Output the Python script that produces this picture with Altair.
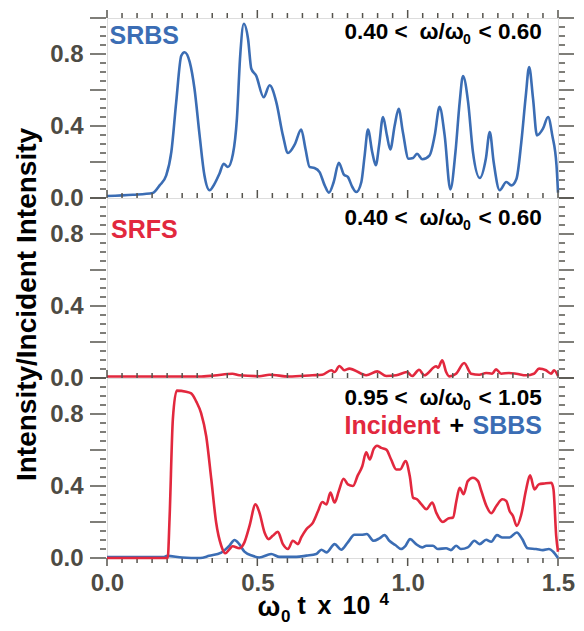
import altair as alt
import pandas as pd

FONT = "Liberation Sans"
BLUE = "#3b6db4"
RED = "#e2283e"
TICK = "#55534d"
LABEL = "#4d4b44"

# ---------------- data (x in units of 10^4 / omega_0) ----------------
srbs = [(0.0, 0.011), (0.086, 0.018), (0.152, 0.028), (0.175, 0.07), (0.197, 0.126),
        (0.214, 0.256), (0.23, 0.53), (0.247, 0.79), (0.258, 0.81), (0.275, 0.756),
        (0.291, 0.607), (0.308, 0.348), (0.324, 0.126), (0.341, 0.043), (0.358, 0.08),
        (0.374, 0.135), (0.388, 0.19), (0.402, 0.172), (0.419, 0.246), (0.432, 0.44),
        (0.443, 0.79), (0.455, 0.968), (0.469, 0.885), (0.48, 0.718), (0.496, 0.68),
        (0.521, 0.56), (0.541, 0.626), (0.563, 0.533), (0.585, 0.348), (0.602, 0.25),
        (0.624, 0.296), (0.646, 0.38), (0.66, 0.274), (0.674, 0.172), (0.69, 0.167),
        (0.707, 0.144), (0.724, 0.07), (0.738, 0.03), (0.754, 0.089), (0.771, 0.196),
        (0.788, 0.13), (0.801, 0.117), (0.816, 0.061), (0.829, 0.033), (0.846, 0.089),
        (0.857, 0.237), (0.868, 0.38), (0.882, 0.256), (0.894, 0.182), (0.905, 0.293),
        (0.918, 0.45), (0.931, 0.348), (0.942, 0.27), (0.957, 0.404), (0.97, 0.496),
        (0.984, 0.367), (1.003, 0.218), (1.018, 0.222), (1.031, 0.246), (1.049, 0.215),
        (1.073, 0.237), (1.09, 0.348), (1.106, 0.506), (1.123, 0.348), (1.142, 0.048),
        (1.159, 0.256), (1.173, 0.533), (1.184, 0.678), (1.201, 0.533), (1.217, 0.256),
        (1.24, 0.111), (1.26, 0.218), (1.273, 0.367), (1.286, 0.2), (1.306, 0.043),
        (1.328, 0.089), (1.345, 0.07), (1.362, 0.107), (1.378, 0.311), (1.393, 0.57),
        (1.404, 0.728), (1.417, 0.552), (1.43, 0.348), (1.45, 0.385), (1.467, 0.45),
        (1.481, 0.348), (1.495, 0.182), (1.5, 0.03)]

srfs = [(0.0, 0.008), (0.307, 0.008), (0.357, 0.014), (0.417, 0.024), (0.44, 0.015),
        (0.507, 0.01), (0.54, 0.018), (0.606, 0.008), (0.683, 0.015), (0.716, 0.018),
        (0.746, 0.043), (0.757, 0.033), (0.773, 0.067), (0.789, 0.043), (0.806, 0.052),
        (0.846, 0.024), (0.862, 0.015), (0.899, 0.037), (0.929, 0.011), (0.962, 0.015),
        (0.998, 0.033), (1.015, 0.011), (1.038, 0.046), (1.055, 0.015), (1.095, 0.065),
        (1.101, 0.057), (1.115, 0.098), (1.128, 0.033), (1.138, 0.009), (1.161, 0.024),
        (1.188, 0.083), (1.211, 0.024), (1.238, 0.018), (1.261, 0.028), (1.281, 0.024),
        (1.294, 0.048), (1.311, 0.024), (1.337, 0.028), (1.361, 0.024), (1.394, 0.015),
        (1.42, 0.024), (1.437, 0.052), (1.46, 0.043), (1.477, 0.024), (1.487, 0.043),
        (1.5, 0.011)]

incident = [(0.0, 0.0), (0.202, 0.0), (0.208, 0.217), (0.219, 0.77), (0.232, 0.93),
            (0.263, 0.924), (0.28, 0.915), (0.297, 0.869), (0.313, 0.805), (0.33, 0.676),
            (0.347, 0.436), (0.363, 0.197), (0.38, 0.068), (0.394, 0.026), (0.408, 0.05),
            (0.418, 0.065), (0.44, 0.054), (0.457, 0.087), (0.474, 0.178), (0.494, 0.298),
            (0.507, 0.252), (0.524, 0.142), (0.538, 0.105), (0.551, 0.123), (0.568, 0.145),
            (0.585, 0.077), (0.602, 0.05), (0.618, 0.096), (0.635, 0.077), (0.646, 0.114),
            (0.663, 0.16), (0.685, 0.197), (0.702, 0.261), (0.716, 0.311), (0.73, 0.298),
            (0.743, 0.363), (0.757, 0.308), (0.771, 0.372), (0.787, 0.44), (0.801, 0.409),
            (0.818, 0.4), (0.834, 0.459), (0.849, 0.51), (0.862, 0.587), (0.874, 0.547),
            (0.887, 0.606), (0.898, 0.624), (0.912, 0.612), (0.929, 0.602), (0.945, 0.547),
            (0.962, 0.492), (0.975, 0.492), (0.993, 0.538), (1.007, 0.455), (1.018, 0.335),
            (1.031, 0.326), (1.046, 0.298), (1.062, 0.271), (1.082, 0.308), (1.095, 0.252),
            (1.117, 0.2), (1.134, 0.219), (1.151, 0.225), (1.162, 0.317), (1.173, 0.39),
            (1.186, 0.354), (1.2, 0.427), (1.217, 0.446), (1.234, 0.427), (1.245, 0.372),
            (1.262, 0.289), (1.278, 0.249), (1.295, 0.289), (1.315, 0.326), (1.328, 0.317),
            (1.339, 0.261), (1.35, 0.234), (1.363, 0.178), (1.378, 0.243), (1.394, 0.381),
            (1.407, 0.459), (1.422, 0.381), (1.436, 0.409), (1.455, 0.414), (1.478, 0.418),
            (1.485, 0.381), (1.494, 0.123), (1.5, 0.035)]

sbbs = [(0.0, 0.005), (0.19, 0.005), (0.2, 0.012), (0.25, 0.003), (0.31, 0.0),
        (0.34, 0.012), (0.38, 0.03), (0.408, 0.07), (0.424, 0.1), (0.44, 0.077),
        (0.457, 0.035), (0.484, 0.012), (0.507, 0.003), (0.546, 0.022), (0.574, 0.006),
        (0.63, 0.006), (0.663, 0.013), (0.696, 0.022), (0.713, 0.046), (0.73, 0.031),
        (0.757, 0.077), (0.779, 0.046), (0.801, 0.087), (0.823, 0.129), (0.846, 0.129),
        (0.864, 0.133), (0.887, 0.096), (0.906, 0.109), (0.923, 0.127), (0.939, 0.096),
        (0.959, 0.072), (0.978, 0.05), (0.993, 0.068), (1.008, 0.105), (1.028, 0.077),
        (1.048, 0.059), (1.062, 0.068), (1.084, 0.068), (1.1, 0.05), (1.128, 0.054),
        (1.144, 0.044), (1.161, 0.068), (1.177, 0.05), (1.2, 0.059), (1.222, 0.096),
        (1.239, 0.077), (1.261, 0.101), (1.278, 0.09), (1.297, 0.127), (1.315, 0.114),
        (1.339, 0.114), (1.363, 0.142), (1.381, 0.105), (1.399, 0.054), (1.427, 0.05),
        (1.45, 0.044), (1.47, 0.05), (1.484, 0.035), (1.5, 0.0)]

y_labels = [0.0, 0.4, 0.8]
x_labels = [0.0, 0.5, 1.0, 1.5]
y_major = [0.0, 0.2, 0.4, 0.6, 0.8, 1.0]
y_minor = [0.05, 0.1, 0.15, 0.25, 0.3, 0.35, 0.45, 0.5, 0.55, 0.65, 0.7, 0.75,
           0.85, 0.9, 0.95]
x_major = [0.0, 0.5, 1.0, 1.5]
x_minor = [0.05, 0.1, 0.15, 0.2, 0.25, 0.3, 0.35, 0.4, 0.45, 0.55, 0.6, 0.65, 0.7,
           0.75, 0.8, 0.85, 0.9, 0.95, 1.05, 1.1, 1.15, 1.2, 1.25, 1.3, 1.35, 1.4, 1.45]

W, H = 451, 180
XS = alt.Scale(domain=[0, 1.5], nice=False, zero=False)
YS = alt.Scale(domain=[0, 1.0], nice=False, zero=False)


def df(pairs):
    return pd.DataFrame(pairs, columns=["t", "v"])


def line(pairs, color, xax, yax):
    return alt.Chart(df(pairs)).mark_line(
        color=color, strokeWidth=2.6, interpolate="monotone", clip=False
    ).encode(
        x=alt.X("t:Q", scale=XS, axis=xax),
        y=alt.Y("v:Q", scale=YS, axis=yax),
    )


def yticks(vals, x0, x1, yax):
    return alt.Chart(pd.DataFrame({"v": vals})).mark_rule(
        color=TICK, strokeWidth=1.5
    ).encode(y=alt.Y("v:Q", scale=YS, axis=yax), x=alt.value(x0), x2=alt.value(x1))


def xticks(vals, y0, y1, xax):
    return alt.Chart(pd.DataFrame({"v": vals})).mark_rule(
        color=TICK, strokeWidth=1.5
    ).encode(x=alt.X("v:Q", scale=XS, axis=xax), y=alt.value(y0), y2=alt.value(y1))


def txt(s, x, y, size, color="black"):
    return alt.Chart(pd.DataFrame({"s": [s]})).mark_text(
        align="left", baseline="alphabetic", font=FONT, fontWeight="bold",
        fontSize=size, color=color
    ).encode(text="s:N", x=alt.value(x), y=alt.value(y))


def band_label(lo, hi, yb):
    return [
        txt(lo + " <", 237.5, yb, 22.5),
        txt("ω/ω", 312.5, yb, 22.5),
        txt("0", 356, yb + 5, 14),
        txt("< " + hi, 371.5, yb, 22.5),
    ]


def tick_layers(xax, yax, bottom=False):
    layers = [
        yticks(y_major, -17, -1, yax), yticks(y_minor, -7, -1, yax),
        yticks(y_major, W + 1, W + 16, yax), yticks(y_minor, W + 1, W + 7, yax),
        xticks(x_major, 0, -8, xax), xticks(x_minor, 0, -5, xax),
    ]
    if bottom:
        layers += [xticks(x_major, H, H + 8, xax), xticks(x_minor, H, H + 5, xax)]
    return layers


def yaxis(title=None):
    kw = dict(values=y_labels, format=".1f", ticks=False, tickSize=0, domain=False,
              grid=False, labelFont=FONT, labelFontWeight="bold", labelFontSize=24,
              labelColor=LABEL, labelPadding=24, labelBaseline="middle")
    if title:
        kw.update(title=title, titleFont=FONT, titleFontWeight="bold", titleFontSize=28,
                  titleColor="black", titlePadding=8, titleY=106)
    else:
        kw.update(title=None)
    return alt.Axis(**kw)


xaxis_bottom = alt.Axis(values=x_labels, format=".1f", ticks=False, tickSize=0,
                        domain=False, grid=False, labelFont=FONT,
                        labelFontWeight="bold", labelFontSize=24, labelColor=LABEL,
                        labelPadding=13, title=None, labelFlush=False)

ya1 = yaxis()
p1 = alt.layer(
    *tick_layers(None, ya1),
    line(srbs, BLUE, None, ya1),
    txt("SRBS", 2.5, 26, 25, BLUE),
    *band_label("0.40", "0.60", 21),
).properties(width=W, height=H)

ya2 = yaxis("Intensity/Incident Intensity")
p2 = alt.layer(
    *tick_layers(None, ya2),
    line(srfs, RED, None, ya2),
    txt("SRFS", 4, 40, 25, RED),
    *band_label("0.40", "0.60", 27),
).properties(width=W, height=H)

ya3 = yaxis()
p3 = alt.layer(
    *tick_layers(xaxis_bottom, ya3, bottom=True),
    line(sbbs, BLUE, xaxis_bottom, ya3),
    line(incident, RED, xaxis_bottom, ya3),
    *band_label("0.95", "1.05", 27),
    txt("Incident", 237.5, 56, 25, RED),
    txt("+", 342.5, 56, 25),
    txt("SBBS", 365.5, 56, 25, BLUE),
    txt("ω", 150.5, 237.5, 27),
    txt("0", 174, 243.5, 17),
    txt("t", 190.5, 235.5, 25),
    txt("x", 210.5, 235.5, 25),
    txt("10", 235.5, 235.5, 25),
    txt("4", 272.5, 226.5, 17),
).properties(width=W, height=H)

chart = alt.vconcat(p1, p2, p3, spacing=0, bounds="flush").properties(
    padding={"left": 5, "top": 0, "right": 0, "bottom": 0}
).configure_view(stroke=None).configure(background="white")

chart.save("out.html", embed_options={"renderer": "svg", "actions": False})
